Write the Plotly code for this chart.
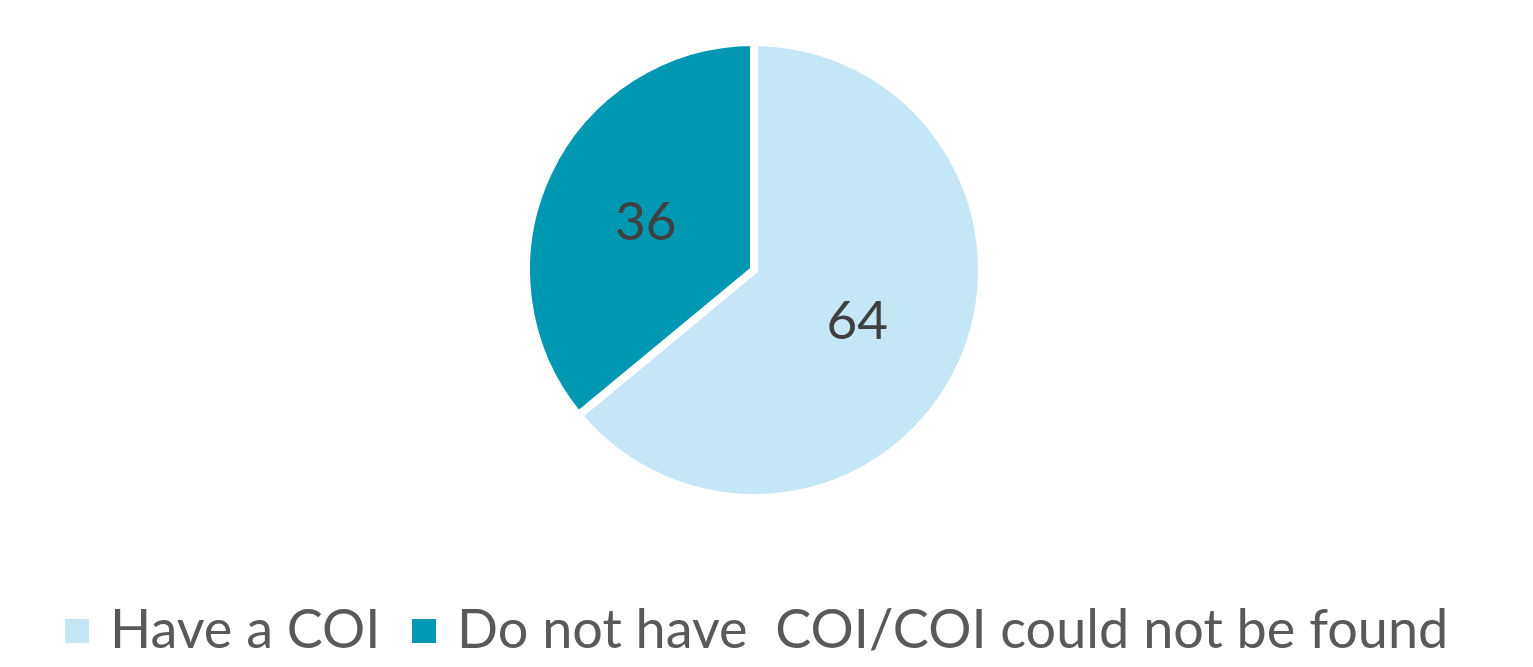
import plotly.graph_objects as go

# Share of items with / without a conflict of interest
labels = ["Have a COI", "Do not have\u00a0\u00a0COI/COI could not be found"]
values = [64, 36]
colors = ["#C5E6F5", "#0097B2"]

W, H = 1533, 667
cx, cy, r = 754, 270, 228
FONT = "Lato, Open Sans, sans-serif"

fig = go.Figure(
    go.Pie(
        labels=labels,
        values=values,
        sort=False,
        direction="clockwise",
        rotation=0,
        textinfo="value",
        textposition="inside",
        insidetextorientation="horizontal",
        textfont=dict(family=FONT, size=53, color="#404040"),
        marker=dict(colors=colors, line=dict(color="white", width=8)),
        domain=dict(x=[(cx - r) / W, (cx + r) / W], y=[1 - (cy + r) / H, 1 - (cy - r) / H]),
        hoverinfo="label+value",
        showlegend=False,
    )
)

# Legend row drawn below the pie: a coloured square followed by its label
legend_x = [65, 412]   # left edge of each swatch, px
sq = 24
legend_y = 631         # vertical centre of the row, px
shapes, annotations = [], []
for lab, col, x0 in zip(labels, colors, legend_x):
    shapes.append(dict(
        type="rect", xref="paper", yref="paper",
        x0=x0 / W, x1=(x0 + sq) / W,
        y0=1 - (legend_y + sq / 2) / H, y1=1 - (legend_y - sq / 2) / H,
        fillcolor=col, line=dict(width=0),
    ))
    annotations.append(dict(
        text=lab, xref="paper", yref="paper",
        x=(x0 + sq + 19) / W, y=1 - (legend_y - 4) / H,
        xanchor="left", yanchor="middle", showarrow=False,
        font=dict(family=FONT, size=54, color="#595959"),
    ))

fig.update_layout(
    width=W,
    height=H,
    margin=dict(l=0, r=0, t=0, b=0),
    paper_bgcolor="white",
    plot_bgcolor="white",
    shapes=shapes,
    annotations=annotations,
)

fig.write_html("out.html")
